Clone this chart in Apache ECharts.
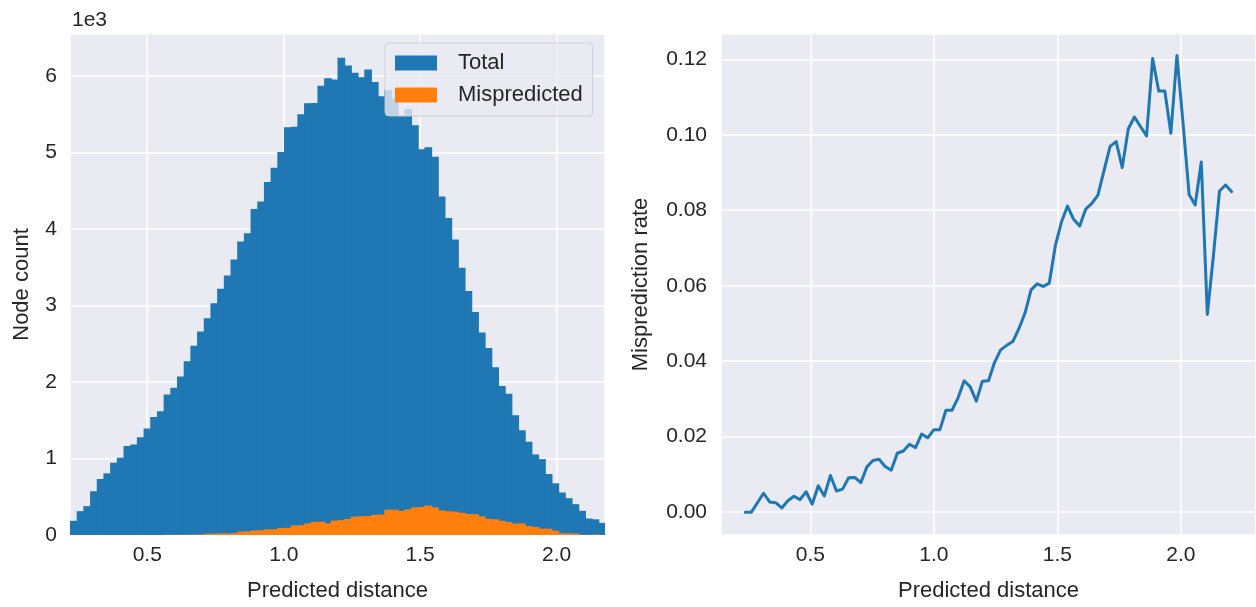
<!DOCTYPE html>
<html>
<head>
<meta charset="utf-8">
<script src="https://cdn.jsdelivr.net/npm/echarts@6/dist/echarts.min.js"></script>
<style>
html,body{margin:0;padding:0;background:#fff;}
#chart{width:1256px;height:607px;}
</style>
</head>
<body>
<div id="chart"></div>
<script>
// ---- Histogram (left) ----
const histMin = 0.217;
const histMax = 2.177;
const binCount = 80;
const totalCounts = [186,312,377,572,732,806,945,1010,1162,1183,
  1279,1391,1543,1617,1838,1925,2072,2271,2475,2662,
  2835,3030,3221,3394,3602,3836,3944,4261,4360,4616,
  4802,5007,5332,5336,5501,5644,5648,5874,5973,5956,
  6238,6138,6043,5986,6086,5921,5735,5813,5705,5480,
  5570,5358,5042,5068,4946,4425,4144,3862,3494,3190,
  2917,2649,2445,2194,1947,1847,1564,1369,1218,1053,
  992,797,676,555,481,403,316,215,205,158];
const mispredCounts = [0,0,0,0,0,0,0,0,0,0,
  0,0,0,0,3,2,4,4,5,8,
  17,18,22,22,26,45,48,61,62,74,
  76,92,94,125,128,152,172,174,152,188,
  195,210,240,245,248,264,268,330,332,315,
  335,362,366,385,362,320,310,305,290,275,
  272,243,210,206,186,170,148,152,118,104,
  84,82,56,24,22,21,3,2,8,2];
const leftYTicks = [0,1,2,3,4,5,6];

// ---- Misprediction rate (right) ----
const rateStart = 0.2367;
const rateStep = 0.02461;
const rateValues = [0.0000,0.0000,0.0025,0.0050,0.0027,0.0025,0.0011,0.0030,0.0042,0.0033,
  0.0054,0.0021,0.0070,0.0043,0.0097,0.0056,0.0061,0.0091,0.0092,0.0078,
  0.0120,0.0137,0.0140,0.0121,0.0111,0.0156,0.0162,0.0180,0.0171,0.0207,
  0.0197,0.0218,0.0218,0.0270,0.0270,0.0303,0.0348,0.0332,0.0294,0.0347,
  0.0348,0.0397,0.0430,0.0442,0.0452,0.0486,0.0527,0.0589,0.0605,0.0598,
  0.0607,0.0706,0.0769,0.0811,0.0776,0.0758,0.0803,0.0818,0.0840,0.0905,
  0.0969,0.0982,0.0913,0.1016,0.1047,0.1022,0.0997,0.1202,0.1116,0.1116,
  0.1004,0.1210,0.1031,0.0842,0.0814,0.0928,0.0524,0.0680,0.0851,0.0867,
  0.0849];

const binWidth = (histMax - histMin) / binCount;
const totalData = totalCounts.map((c, i) => [histMin + i * binWidth, histMin + (i + 1) * binWidth, c]);
const mispredData = mispredCounts.map((c, i) => [histMin + i * binWidth, histMin + (i + 1) * binWidth, c]);
const rateData = rateValues.map((v, i) => [rateStart + i * rateStep, v]);

const FONT = 'Liberation Sans, Arial, sans-serif';
const TXT = '#262626';
const BG = '#EAEAF2';

function histRender(color) {
  return function (params, api) {
    const p0 = api.coord([api.value(0), api.value(2)]);
    const p1 = api.coord([api.value(1), 0]);
    return {
      type: 'rect',
      shape: { x: p0[0], y: p0[1], width: p1[0] - p0[0] + 1, height: p1[1] - p0[1] },
      style: { fill: color, stroke: null }
    };
  };
}

function near(v, step) {
  return Math.abs(v / step - Math.round(v / step)) < 1e-6;
}

const chart = echarts.init(document.getElementById('chart'), null, { renderer: 'canvas' });
chart.setOption({
  animation: false,
  backgroundColor: '#ffffff',
  textStyle: { fontFamily: FONT },
  title: {
    text: '1e3', left: 67, top: 5,
    textStyle: { fontFamily: FONT, fontSize: 21, fontWeight: 'normal', color: TXT }
  },
  legend: {
    left: 385, top: 43, orient: 'vertical',
    itemWidth: 42, itemHeight: 15, itemGap: 10,
    padding: [9, 10, 10, 10],
    backgroundColor: 'rgba(234,234,242,0.8)',
    borderColor: 'rgba(204,204,204,0.9)', borderWidth: 1, borderRadius: 4,
    textStyle: { fontFamily: FONT, fontSize: 22, color: TXT, padding: [0, 0, 0, 16] },
    data: [{ name: 'Total', icon: 'rect' }, { name: 'Mispredicted', icon: 'rect' }]
  },
  grid: [
    { left: 70, top: 34, width: 535, height: 503, show: true, backgroundColor: BG, borderWidth: 0 },
    { left: 721, top: 34, width: 537, height: 504, show: true, backgroundColor: BG, borderWidth: 0 }
  ],
  xAxis: [
    {
      gridIndex: 0, type: 'value', min: histMin, max: histMax, splitNumber: 4,
      axisLine: { show: false }, axisTick: { show: false },
      axisLabel: { fontFamily: FONT, fontSize: 21, color: TXT, margin: 10,
        showMinLabel: false, showMaxLabel: false,
        formatter: v => near(v, 0.5) ? v.toFixed(1) : '' },
      splitLine: { show: true, lineStyle: { color: '#ffffff', width: 1.5 } },
      name: 'Predicted distance', nameLocation: 'middle', nameGap: 45,
      nameTextStyle: { fontFamily: FONT, fontSize: 22, color: TXT }
    },
    {
      gridIndex: 1, type: 'value', min: 0.1383, max: 2.304, splitNumber: 4,
      axisLine: { show: false }, axisTick: { show: false },
      axisLabel: { fontFamily: FONT, fontSize: 21, color: TXT, margin: 10,
        showMinLabel: false, showMaxLabel: false,
        formatter: v => near(v, 0.5) ? v.toFixed(1) : '' },
      splitLine: { show: true, lineStyle: { color: '#ffffff', width: 1.5 } },
      name: 'Predicted distance', nameLocation: 'middle', nameGap: 45,
      nameTextStyle: { fontFamily: FONT, fontSize: 22, color: TXT }
    }
  ],
  yAxis: [
    {
      gridIndex: 0, type: 'value', min: 0, max: 6550, splitNumber: 7,
      axisLine: { show: false }, axisTick: { show: false },
      axisLabel: { fontFamily: FONT, fontSize: 21, color: TXT, margin: 13,
        showMaxLabel: false,
        formatter: v => (near(v, 1000) && leftYTicks.indexOf(Math.round(v / 1000)) >= 0) ? String(Math.round(v / 1000)) : '' },
      splitLine: { show: true, lineStyle: { color: '#ffffff', width: 1.5 } },
      name: 'Node count', nameLocation: 'middle', nameGap: 37,
      nameTextStyle: { fontFamily: FONT, fontSize: 22, color: TXT }
    },
    {
      gridIndex: 1, type: 'value', min: -0.00606, max: 0.1267, splitNumber: 7,
      axisLine: { show: false }, axisTick: { show: false },
      axisLabel: { fontFamily: FONT, fontSize: 21, color: TXT, margin: 14,
        showMinLabel: false, showMaxLabel: false,
        formatter: v => near(v, 0.02) && v > -0.001 ? v.toFixed(2) : '' },
      splitLine: { show: true, lineStyle: { color: '#ffffff', width: 1.5 } },
      name: 'Misprediction rate', nameLocation: 'middle', nameGap: 69,
      nameTextStyle: { fontFamily: FONT, fontSize: 22, color: TXT }
    }
  ],
  series: [
    {
      name: 'Total', type: 'custom', xAxisIndex: 0, yAxisIndex: 0,
      itemStyle: { color: '#1f77b4' },
      renderItem: histRender('#1f77b4'),
      encode: { x: [0, 1], y: 2 },
      data: totalData, clip: true, z: 2
    },
    {
      name: 'Mispredicted', type: 'custom', xAxisIndex: 0, yAxisIndex: 0,
      itemStyle: { color: '#ff7f0e' },
      renderItem: histRender('#ff7f0e'),
      encode: { x: [0, 1], y: 2 },
      data: mispredData, clip: true, z: 3
    },
    {
      name: 'Misprediction rate', type: 'line', xAxisIndex: 1, yAxisIndex: 1,
      data: rateData, showSymbol: false, symbol: 'none',
      lineStyle: { color: '#1f77b4', width: 3, cap: 'round', join: 'round' },
      itemStyle: { color: '#1f77b4' }, z: 3
    }
  ]
});
</script>
</body>
</html>
